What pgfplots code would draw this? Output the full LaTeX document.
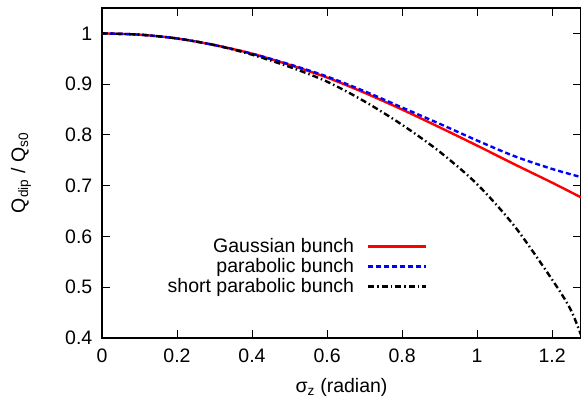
\documentclass[border=0pt]{standalone}
\usepackage{fontspec}
\setmainfont{Liberation Sans}
\usepackage{pgfplots}
\pgfplotsset{compat=1.18}
\definecolor{gred}{RGB}{255,0,0}
\definecolor{gblue}{RGB}{0,0,255}
\begin{document}
\fontsize{19.5bp}{22bp}\selectfont
\begin{tikzpicture}
\begin{axis}[
  at={(0,0)}, anchor=origin,
  scale only axis, width=479bp, height=330bp,
  xmin=0, xmax=1.277, ymin=0.4, ymax=1.05,
  xtick={0,0.2,0.4,0.6,0.8,1,1.2},
  ytick={0.4,0.5,0.6,0.7,0.8,0.9,1},
  xticklabels={0,0.2,0.4,0.6,0.8,1,1.2},
  yticklabels={0.4,0.5,0.6,0.7,0.8,0.9,1},
  tick align=inside, major tick length=8bp,
  axis line style={line width=1.4bp},
  every tick/.style={line width=1bp, black},
  tick label style={font=\fontsize{19.5bp}{22bp}\selectfont},
  xticklabel style={yshift=-4bp},
  yticklabel style={xshift=-3bp},
  label style={font=\fontsize{19.5bp}{22bp}\selectfont},
  xlabel={σ\textsubscript{z} (radian)},
  ylabel={Q\textsubscript{dip} / Q\textsubscript{s0}},
  xlabel style={at={(axis description cs:0.5,0)}, anchor=center, yshift=-49bp},
  ylabel style={at={(axis description cs:0,0.5)}, anchor=center, rotate=0, yshift=81bp},
  legend plot pos=right,
  legend cell align=right,
  legend style={at={(axis description cs:0.68,0.31)}, anchor=north east, draw=none, fill=none,
    inner sep=0pt, row sep=-1bp, font=\fontsize{19.5bp}{22bp}\selectfont,
    nodes={inner sep=2bp}},
  legend image code/.code={\path (0bp,0bp); \draw[#1] (11bp,0bp) -- (69bp,0bp);},
]
\addplot[gred, line width=2.4bp, smooth] coordinates {
(0,1) (0.1,0.9975) (0.2,0.990) (0.3,0.977) (0.4,0.960) (0.5,0.938) (0.6,0.913)
(0.7,0.883) (0.8,0.850) (0.9,0.815) (1.0,0.779) (1.1,0.742) (1.2,0.706) (1.277,0.677)};
\addlegendentry{Gaussian bunch}
\addplot[gblue, line width=2.4bp, dash pattern=on 5bp off 3bp, smooth] coordinates {
(0,1) (0.1,0.9975) (0.2,0.990) (0.3,0.977) (0.4,0.960) (0.5,0.939) (0.6,0.915)
(0.7,0.886) (0.8,0.854) (0.9,0.822) (1.0,0.789) (1.1,0.758) (1.2,0.733) (1.277,0.717)};
\addlegendentry{parabolic bunch}
\addplot[black, line width=2.4bp, dash pattern=on 6bp off 3bp on 1.5bp off 3bp, smooth] coordinates {
(0,1) (0.1,0.9975) (0.2,0.990) (0.3,0.977) (0.4,0.958) (0.5,0.934) (0.6,0.905)
(0.7,0.866) (0.8,0.820) (0.9,0.767) (1.0,0.703) (1.1,0.620) (1.2,0.515) (1.25,0.455) (1.285,0.39)};
\addlegendentry{short parabolic bunch}
\end{axis}
\pgfresetboundingbox
\path[use as bounding box] (-102bp,-62bp) rectangle (479bp,338bp);
\end{tikzpicture}
\end{document}
